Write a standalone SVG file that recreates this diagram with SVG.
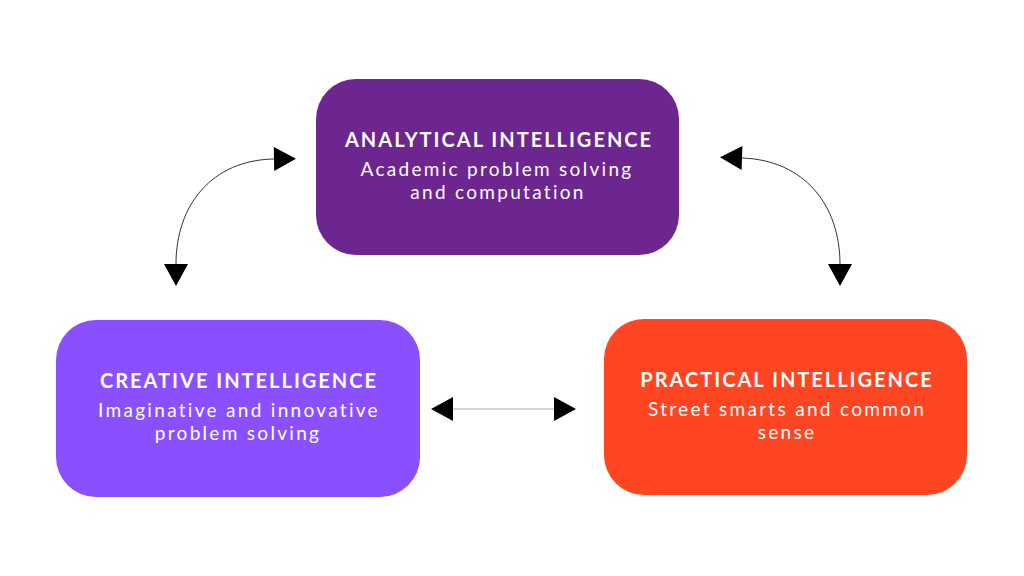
<svg xmlns="http://www.w3.org/2000/svg" width="1024" height="576" viewBox="0 0 1024 576">
  <style>
    .box { stroke: none; }
    .title { font-family: Lato, "Open Sans", sans-serif; font-weight: 700; font-size: 20px; letter-spacing: 2px; fill: #ffffff; text-anchor: middle; }
    .sub { font-family: Lato, "Open Sans", sans-serif; font-weight: 400; font-size: 19px; letter-spacing: 2.3px; fill: #ffffff; text-anchor: middle; }
    .conn { fill: none; stroke-width: 1; }
  </style>
  <defs>
    <marker id="ah" markerUnits="userSpaceOnUse" markerWidth="24" markerHeight="26" refX="0" refY="12" orient="auto-start-reverse" viewBox="0 0 24 26" overflow="visible">
      <path d="M0,0 L22,12 L0,24 z" fill="#000000"/>
    </marker>
  </defs>
  <rect x="0" y="0" width="1024" height="576" fill="#ffffff"/>

  <g id="connectors">
    <path class="conn" d="M176,264 C176,205 212,160 274,159" stroke="#333333" marker-start="url(#ah)" marker-end="url(#ah)"/>
    <path class="conn" d="M742,158 C804,160 840,205 840,264" stroke="#333333" marker-start="url(#ah)" marker-end="url(#ah)"/>
    <path class="conn" d="M453,409 L554,409" stroke="#aaaaaa" stroke-width="1.5" marker-start="url(#ah)" marker-end="url(#ah)"/>
  </g>

  <g id="analytical">
    <rect class="box" x="316" y="79" width="363" height="176" rx="40" fill="#6d2590"/>
    <text class="title" x="499" y="147">ANALYTICAL INTELLIGENCE</text>
    <text class="sub" x="497" y="176">Academic problem solving</text>
    <text class="sub" x="498" y="199">and computation</text>
  </g>

  <g id="creative">
    <rect class="box" x="56" y="320" width="364" height="177" rx="40" fill="#8a4fff"/>
    <text class="title" x="239" y="388">CREATIVE INTELLIGENCE</text>
    <text class="sub" x="239" y="417">Imaginative and innovative</text>
    <text class="sub" x="238" y="440">problem solving</text>
  </g>

  <g id="practical">
    <rect class="box" x="604" y="319" width="363" height="176" rx="40" fill="#ff4521"/>
    <text class="title" x="787" y="387">PRACTICAL INTELLIGENCE</text>
    <text class="sub" x="787" y="416">Street smarts and common</text>
    <text class="sub" x="787" y="439">sense</text>
  </g>
</svg>
